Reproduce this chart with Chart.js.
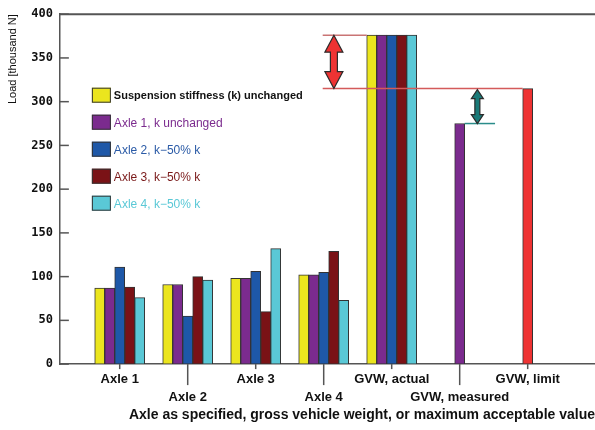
<!DOCTYPE html>
<html>
<head>
<meta charset="utf-8">
<script src="https://cdn.jsdelivr.net/npm/chart.js@4.4.1/dist/chart.umd.min.js"></script>
<style>
  html, body { margin: 0; padding: 0; background: #fff; }
  #wrap { position: relative; width: 595px; height: 430px; }
</style>
</head>
<body>
<div id="wrap"><canvas id="loadChart"></canvas></div>
<script>
// Categories on the x axis
const categories = ["Axle 1", "Axle 2", "Axle 3", "Axle 4", "GVW, actual", "GVW, measured", "GVW, limit"];

// Load [thousand N] for each series
const kUnchanged = [87, 91, 98, 102, 376, null, null];
const axle1Unchanged = [87, 91, 98, 102, 376, 275, null];
const axle2Half = [111, 55, 106, 105, 376, null, null];
const axle3Half = [88, 100, 60, 129, 376, null, null];
const axle4Half = [76, 96, 132, 73, 376, null, null];
const gvwLimit = [null, null, null, null, null, null, 315];

const yTicks = [0, 50, 100, 150, 200, 250, 300, 350, 400];

const seriesLabels = [
    "Suspension stiffness (k) unchanged",
    "Axle 1, k unchanged",
    "Axle 2, k\u221250% k",
    "Axle 3, k\u221250% k",
    "Axle 4, k\u221250% k",
    "GVW, limit"
];
const seriesColors = ["#ebe51e", "#7b2b8e", "#1e58a8", "#7a1216", "#5ac8d6", "#ee3333"];
const legendTextColors = ["#111111", "#7b2b8e", "#2a5aa6", "#7a1a1a", "#5ac8d6"];

const seriesValues = [kUnchanged, axle1Unchanged, axle2Half, axle3Half, axle4Half, gvwLimit];

const datasets = seriesValues.map((vals, s) => ({
    label: seriesLabels[s],
    data: vals.map((v, i) => ({ x: i, y: v })),
    backgroundColor: seriesColors[s],
    borderColor: "#333",
    borderWidth: 1,
    borderSkipped: false,
    barThickness: 10,
    skipNull: true
}));

function arrow(ctx, x, yTop, yBot, headW, shaftW, headL, fill) {
    ctx.save();
    ctx.beginPath();
    ctx.moveTo(x, yTop);
    ctx.lineTo(x + headW / 2, yTop + headL);
    ctx.lineTo(x + shaftW / 2, yTop + headL);
    ctx.lineTo(x + shaftW / 2, yBot - headL);
    ctx.lineTo(x + headW / 2, yBot - headL);
    ctx.lineTo(x, yBot);
    ctx.lineTo(x - headW / 2, yBot - headL);
    ctx.lineTo(x - shaftW / 2, yBot - headL);
    ctx.lineTo(x - shaftW / 2, yTop + headL);
    ctx.lineTo(x - headW / 2, yTop + headL);
    ctx.closePath();
    ctx.fillStyle = fill;
    ctx.fill();
    ctx.lineWidth = 1.2;
    ctx.strokeStyle = "#2b2b2b";
    ctx.stroke();
    ctx.restore();
}

// extra marks: top frame, inner y ticks, staggered x ticks, reference lines, arrows, legend
const decorations = {
    id: "decorations",
    afterDatasetsDraw(chart) {
        const ctx = chart.ctx;
        const area = chart.chartArea;
        const xs = chart.scales.x;
        const ys = chart.scales.y;

        ctx.save();
        ctx.strokeStyle = "#555";
        ctx.lineWidth = 2;
        ctx.beginPath();
        ctx.moveTo(area.left, area.top);
        ctx.lineTo(chart.width, area.top);
        ctx.stroke();

        ctx.lineWidth = 1.5;
        yTicks.forEach(t => {
            const py = ys.getPixelForValue(t);
            ctx.beginPath();
            ctx.moveTo(area.left, py);
            ctx.lineTo(area.left + 9, py);
            ctx.stroke();
        });
        categories.forEach((c, i) => {
            const px = xs.getPixelForValue(i);
            ctx.beginPath();
            ctx.moveTo(px, area.bottom);
            ctx.lineTo(px, area.bottom + (i % 2 ? 21 : 5));
            ctx.stroke();
        });

        // reference levels
        const actual = kUnchanged[4];
        const limit = gvwLimit[6];
        const measured = axle1Unchanged[5];
        const yActual = ys.getPixelForValue(actual);
        const yLimit = ys.getPixelForValue(limit);
        const yMeasured = ys.getPixelForValue(measured);
        const lineStart = xs.getPixelForValue(3) - 1;

        ctx.lineWidth = 1.5;
        ctx.strokeStyle = "#c97474";
        ctx.beginPath();
        ctx.moveTo(lineStart, yActual);
        ctx.lineTo(xs.getPixelForValue(4) - 25, yActual);
        ctx.stroke();
        ctx.strokeStyle = "#d45a5a";
        ctx.beginPath();
        ctx.moveTo(lineStart, yLimit);
        ctx.lineTo(xs.getPixelForValue(6) - 5, yLimit);
        ctx.stroke();
        ctx.strokeStyle = "#2a8c8a";
        ctx.beginPath();
        ctx.moveTo(xs.getPixelForValue(5) + 5, yMeasured);
        ctx.lineTo(xs.getPixelForValue(5.52), yMeasured);
        ctx.stroke();
        ctx.restore();

        arrow(ctx, xs.getPixelForValue(3.15), yActual, yLimit, 18, 7, 17, "#ee3333");
        arrow(ctx, xs.getPixelForValue(5.26), yLimit + 1, yMeasured, 12, 5, 9, "#1a7a78");

        // legend inside the plot
        ctx.save();
        const lx = area.left + 32;
        const ly0 = area.top + 81;
        for (let s = 0; s < 5; s++) {
            const cy = ly0 + s * 27;
            ctx.fillStyle = seriesColors[s];
            ctx.fillRect(lx, cy - 7.5, 19, 15);
            ctx.strokeStyle = "#333";
            ctx.lineWidth = 1;
            ctx.strokeRect(lx + 0.5, cy - 7, 18, 14);
            ctx.fillStyle = legendTextColors[s];
            ctx.font = s === 0 ? "bold 11px 'Liberation Sans', Arial, sans-serif" : "12px 'Liberation Sans', Arial, sans-serif";
            ctx.textBaseline = "middle";
            ctx.textAlign = "left";
            ctx.fillText(seriesLabels[s], lx + 22, cy + 1);
        }
        ctx.restore();
    }
};

new Chart(document.getElementById("loadChart"), {
    type: "bar",
    data: { datasets: datasets },
    options: {
        responsive: true,
        maintainAspectRatio: false,
        animation: false,
        layout: { padding: { left: 4, top: 13, right: 0, bottom: 4 } },
        plugins: {
            legend: { display: false },
            tooltip: { enabled: false }
        },
        scales: {
            x: {
                type: "linear",
                min: -0.88,
                max: 6.99,
                offset: false,
                afterBuildTicks: scale => {
                    scale.ticks = categories.map((c, i) => ({ value: i }));
                },
                grid: { display: false, drawTicks: false },
                border: { color: "#555", width: 1.5 },
                ticks: {
                    autoSkip: false,
                    maxRotation: 0,
                    minRotation: 0,
                    padding: 7,
                    color: "#111",
                    font: { family: "'Liberation Sans', Arial, sans-serif", size: 13, weight: "bold", lineHeight: 1.35 },
                    callback: value => {
                        const label = categories[Math.round(value)];
                        return Math.round(value) % 2 ? ["", label] : label;
                    }
                },
                title: {
                    display: true,
                    text: "Axle as specified, gross vehicle weight, or maximum acceptable value",
                    align: "end",
                    color: "#111",
                    padding: { top: -6, bottom: 2 },
                    font: { family: "'Liberation Sans', Arial, sans-serif", size: 14, weight: "bold" }
                }
            },
            y: {
                min: 0,
                max: 400,
                afterBuildTicks: scale => {
                    scale.ticks = yTicks.map(v => ({ value: v }));
                },
                grid: { display: false, drawTicks: false },
                border: { color: "#555", width: 1.5 },
                ticks: {
                    padding: 7,
                    color: "#111",
                    font: { family: "'DejaVu Sans Mono', monospace", size: 12, weight: "bold" }
                },
                title: {
                    display: true,
                    text: "Load [thousand N]",
                    align: "end",
                    color: "#111",
                    padding: { top: 2, bottom: 5 },
                    font: { family: "'Liberation Sans', Arial, sans-serif", size: 11 }
                }
            }
        }
    },
    plugins: [decorations]
});
</script>
</body>
</html>
